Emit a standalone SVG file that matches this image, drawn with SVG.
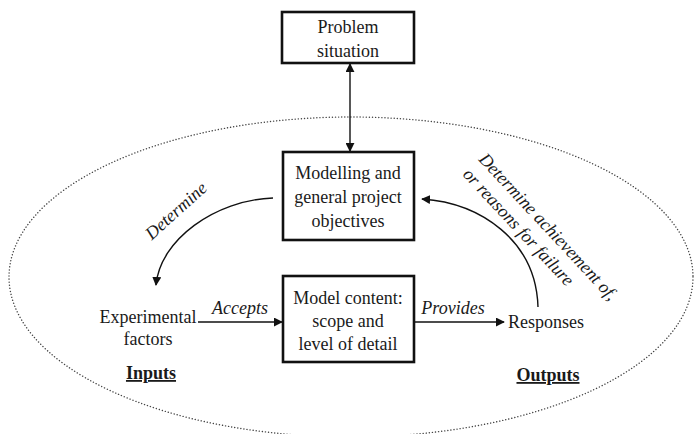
<svg xmlns="http://www.w3.org/2000/svg" width="694" height="434" viewBox="0 0 694 434">
  <style>
    text { font-family: "Liberation Serif", "Times New Roman", serif; font-size: 18px; fill: #1a1a1a; }
    .it { font-style: italic; }
    .hd { font-weight: bold; text-decoration: underline; }
    .box { fill: #ffffff; stroke: #111111; stroke-width: 2.6; }
    .conn { fill: none; stroke: #111111; stroke-width: 1.4; }
    .scope { fill: none; stroke: #444444; stroke-width: 1.4; stroke-dasharray: 0.1 3; stroke-linecap: round; }
  </style>
  <defs>
    <marker id="head" viewBox="0 0 10 10" refX="9" refY="5" markerWidth="7" markerHeight="7" markerUnits="userSpaceOnUse" orient="auto-start-reverse">
      <path d="M0,0 L10,5 L0,10 z" fill="#111111"/>
    </marker>
    <marker id="headL" viewBox="0 0 10 10" refX="9" refY="5" markerWidth="9" markerHeight="9" markerUnits="userSpaceOnUse" orient="auto-start-reverse">
      <path d="M0,0 L10,5 L0,10 z" fill="#111111"/>
    </marker>
  </defs>

  <rect width="694" height="434" fill="#ffffff"/>

  <!-- model boundary -->
  <ellipse class="scope" cx="351" cy="277" rx="342" ry="160"/>

  <!-- connectors -->
  <g id="connectors">
    <line class="conn" x1="350" y1="64" x2="350" y2="151" marker-start="url(#headL)" marker-end="url(#headL)"/>
    <path class="conn" d="M273,198 C215,200 160,240 156,285" marker-end="url(#headL)"/>
    <path class="conn" d="M538,307 C536,240 480,203 422,199" marker-end="url(#headL)"/>
    <line class="conn" x1="198" y1="322" x2="282" y2="322" marker-end="url(#headL)"/>
    <line class="conn" x1="415" y1="322" x2="504" y2="322" marker-end="url(#headL)"/>
    <text class="it" transform="translate(180,215) rotate(-42)" text-anchor="middle">Determine</text>
    <text class="it" transform="translate(478,160) rotate(47)">Determine achievement of,<tspan x="0" dy="22">or reasons for failure</tspan></text>
    <text class="it" x="240" y="314" text-anchor="middle">Accepts</text>
    <text class="it" x="453" y="314" text-anchor="middle">Provides</text>
  </g>

  <g id="problem">
    <rect class="box" x="282" y="12" width="132" height="51"/>
    <text x="348" y="33" text-anchor="middle">Problem</text>
    <text x="348" y="57" text-anchor="middle">situation</text>
  </g>

  <g id="objectives">
    <rect class="box" x="283" y="152" width="131" height="88"/>
    <text x="348" y="179" text-anchor="middle">Modelling and</text>
    <text x="348" y="203" text-anchor="middle">general project</text>
    <text x="348" y="227" text-anchor="middle">objectives</text>
  </g>

  <g id="content">
    <rect class="box" x="283" y="276" width="131" height="86"/>
    <text x="348" y="304" text-anchor="middle">Model content:</text>
    <text x="348" y="327" text-anchor="middle">scope and</text>
    <text x="348" y="350" text-anchor="middle">level of detail</text>
  </g>

  <g id="inputs">
    <text x="148" y="323" text-anchor="middle">Experimental</text>
    <text x="148" y="345" text-anchor="middle">factors</text>
    <text class="hd" x="151" y="379" text-anchor="middle">Inputs</text>
  </g>

  <g id="outputs">
    <text x="508" y="328">Responses</text>
    <text class="hd" x="548" y="381" text-anchor="middle">Outputs</text>
  </g>
</svg>
